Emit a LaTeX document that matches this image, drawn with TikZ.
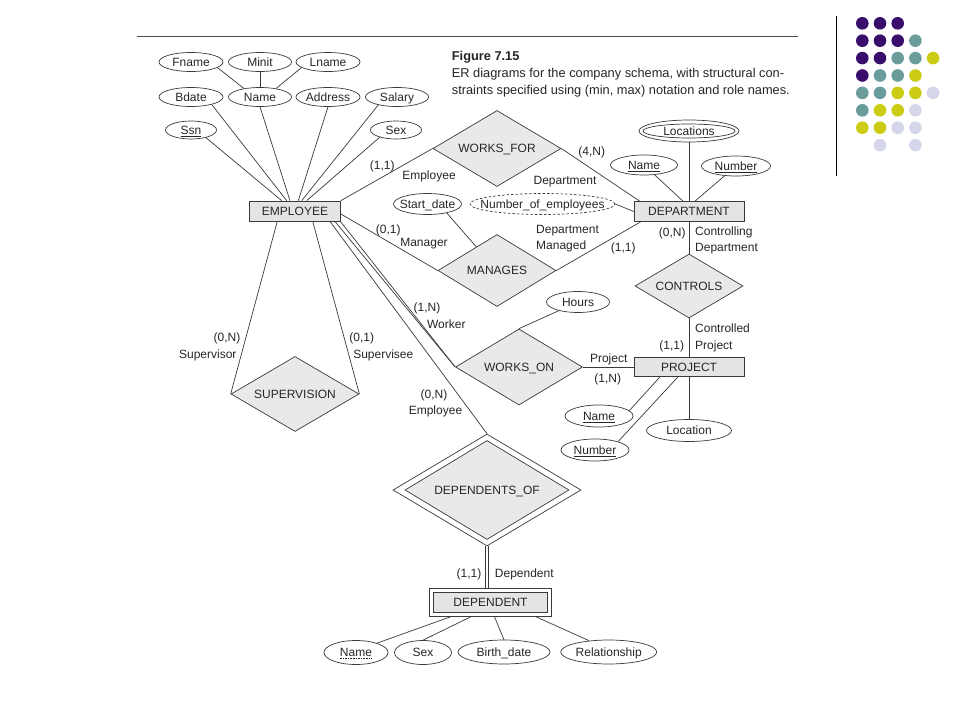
\documentclass[tikz,border=0pt]{standalone}
\usepackage{fontspec}
\setmainfont{Liberation Sans}
\usetikzlibrary{shapes.geometric,calc}
\pgfdeclarelayer{bg}
\pgfsetlayers{bg,main}
\definecolor{linec}{HTML}{3A3A3A}
\definecolor{entfill}{HTML}{E4E4E4}
\definecolor{relfill}{HTML}{E9E9E9}
\definecolor{dotP}{HTML}{380D6B}
\definecolor{dotT}{HTML}{6A9C9C}
\definecolor{dotY}{HTML}{CCCC14}
\definecolor{dotL}{HTML}{D6D6EA}
\newcommand\zb[1]{\makebox[0pt]{#1}}
\begin{document}
\begin{tikzpicture}[x=1bp,y=-1bp,
  every node/.style={font=\fontsize{12bp}{14bp}\selectfont, text=black!85, inner sep=0pt, text height=8.6bp, text depth=0pt},
  ent/.style={rectangle, draw=linec, line width=0.7bp, fill=entfill, minimum height=20bp},
  relship/.style={diamond, draw=linec, line width=0.7bp, fill=relfill, aspect=1.7},
  attr/.style={ellipse, draw=linec, line width=0.7bp, fill=white},
  conn/.style={draw=linec, line width=0.7bp},
  capfont/.style={font=\fontsize{12.8bp}{15bp}\selectfont, anchor=west}
]
\useasboundingbox (0,0) rectangle (960,720);
\begin{pgfonlayer}{bg}
\fill[white] (0,0) rectangle (960,720);
\end{pgfonlayer}

% decorative rules and dots
\coordinate (ruleL) at (137.3,36.7);
\coordinate (ruleR) at (798.3,36.7);
\draw[line width=1.3bp, black!70] (ruleL) -- (ruleR);
\coordinate (vtop) at (836.7,16);
\coordinate (vbot) at (836.7,176);
\draw[line width=1.3bp, black] (vtop) -- (vbot);
\foreach \c/\r/\k in {1/1/P,2/1/P,3/1/P, 1/2/P,2/2/P,3/2/P,4/2/T, 1/3/P,2/3/P,3/3/T,4/3/T,5/3/Y, 1/4/P,2/4/T,3/4/T,4/4/Y, 1/5/T,2/5/T,3/5/Y,4/5/Y,5/5/L, 1/6/T,2/6/Y,3/6/Y,4/6/L, 1/7/Y,2/7/Y,3/7/L,4/7/L, 2/8/L,4/8/L}
  \fill[dot\k] ({862.3+17.7*(\c-1)},{23.3+17.4*(\r-1)}) circle (6.3bp);

% caption
\node[capfont, font=\fontsize{12.8bp}{15bp}\selectfont\bfseries] (fig) at (451.7,56.7) {Figure 7.15};
\node[capfont] (cap1) at (451.7,73.3) {ER diagrams for the company schema, with structural con-};
\node[capfont] (cap2) at (451.7,90) {straints specified using (min, max) notation and role names.};

% EMPLOYEE and attributes
\node[attr, minimum width=64bp, minimum height=19bp] (fname) at (191,62) {\zb{Fname}};
\node[attr, minimum width=63bp, minimum height=19bp] (minit) at (260,62) {\zb{Minit}};
\node[attr, minimum width=64bp, minimum height=19bp] (lname) at (328,62) {\zb{Lname}};
\node[attr, minimum width=64bp, minimum height=19bp] (bdate) at (191,97) {\zb{Bdate}};
\node[attr, minimum width=63bp, minimum height=19bp] (ename) at (260,97) {\zb{Name}};
\node[attr, minimum width=64bp, minimum height=19bp] (addr) at (328,97) {\zb{Address}};
\node[attr, minimum width=63bp, minimum height=19bp] (salary) at (397,97) {\zb{Salary}};
\node[attr, minimum width=51bp, minimum height=18bp] (ssn) at (191,130) {\zb{\underline{Ssn}}};
\node[attr, minimum width=51bp, minimum height=18bp] (esex) at (396,130) {\zb{Sex}};
\node[ent, minimum width=91bp] (emp) at (295,211) {EMPLOYEE};

% DEPARTMENT side
\node[relship, minimum width=128bp, minimum height=76bp] (wf) at (497,148.5) {\zb{WORKS\_FOR}};
\node[attr, minimum width=100bp, minimum height=22bp] (locs) at (689,131) {};
\node[attr, minimum width=92bp, minimum height=14bp] (locsin) at (689,131) {\zb{Locations}};
\node[attr, minimum width=67bp, minimum height=20bp] (dname) at (644,165) {\zb{\underline{Name}}};
\node[attr, minimum width=69bp, minimum height=20bp] (dnum) at (736,166) {\zb{\underline{Number}}};
\node[attr, dash pattern=on 2.5bp off 2bp, minimum width=145bp, minimum height=21bp] (noe) at (542.5,204) {\zb{Number\_of\_employees}};
\node[attr, minimum width=68bp, minimum height=21bp] (sdate) at (427.5,204) {\zb{Start\_date}};
\node[ent, minimum width=110bp] (dept) at (689,211.5) {DEPARTMENT};
\node[relship, minimum width=118bp, minimum height=72bp] (mg) at (497,270.5) {\zb{MANAGES}};
\node[relship, minimum width=108bp, minimum height=64bp] (ctrl) at (689,286) {\zb{CONTROLS}};

% PROJECT side
\node[attr, minimum width=63bp, minimum height=21bp] (hours) at (578,302) {\zb{Hours}};
\node[relship, minimum width=127bp, minimum height=76bp] (wo) at (519,367) {\zb{WORKS\_ON}};
\node[ent, minimum width=110bp, minimum height=19bp] (proj) at (689,367) {PROJECT};
\node[attr, minimum width=68bp, minimum height=22bp] (pname) at (599,416) {\zb{\underline{Name}}};
\node[attr, minimum width=85bp, minimum height=22bp] (ploc) at (689,430.5) {\zb{Location}};
\node[attr, minimum width=68bp, minimum height=22bp] (pnum) at (595,450) {\zb{\underline{Number}}};

% SUPERVISION, DEPENDENTS
\node[relship, minimum width=128bp, minimum height=75bp] (sup) at (295,394) {\zb{SUPERVISION}};
\node[relship, fill=white, minimum width=188bp, minimum height=112bp] (dof) at (487,490) {};
\node[relship, minimum width=164bp, minimum height=99bp] (dofin) at (487,490) {\zb{DEPENDENTS\_OF}};
\node[ent, fill=white, minimum width=122bp, minimum height=28bp] (dep) at (490.5,602) {};
\node[ent, minimum width=114bp, minimum height=20bp] (depin) at (490.5,602) {DEPENDENT};
\node[attr, minimum width=64bp, minimum height=24bp] (dpname) at (356,652.5) {\zb{Name}};
\node[attr, minimum width=57bp, minimum height=24bp] (dpsex) at (423,652.5) {\zb{Sex}};
\node[attr, minimum width=92bp, minimum height=24bp] (dpbirth) at (504,652) {\zb{Birth\_date}};
\node[attr, minimum width=96bp, minimum height=24bp] (dprel) at (608.7,652) {\zb{Relationship}};
\draw[line width=0.6bp, dash pattern=on 1.6bp off 1bp, black!85] ([xshift=-16bp,yshift=-5.8bp]dpname.center) -- ([xshift=16bp,yshift=-5.8bp]dpname.center);

% role labels
\node (l1) at (382.3,165) {(1,1)};
\node (l2) at (429,175) {Employee};
\node (l3) at (591.7,151) {(4,N)};
\node (l4) at (565,180.7) {Department};
\node (l5) at (388.3,229.3) {(0,1)};
\node (l6) at (424,241.7) {Manager};
\node[anchor=west] (l7) at (536,229.3) {Department};
\node[anchor=west] (l8) at (536,245) {Managed};
\node (l9) at (623.3,247.3) {(1,1)};
\node (l10) at (672.3,231.7) {(0,N)};
\node[anchor=west] (l11) at (695,230.7) {Controlling};
\node[anchor=west] (l12) at (695,246.7) {Department};
\node[anchor=west] (l13) at (695,328.3) {Controlled};
\node[anchor=west] (l14) at (695,345) {Project};
\node (l15) at (671.7,345) {(1,1)};
\node (l16) at (608.7,358.3) {Project};
\node (l17) at (607.7,377.7) {(1,N)};
\node (l18) at (427,306.7) {(1,N)};
\node (l19) at (446.3,324) {Worker};
\node (l20) at (434,394) {(0,N)};
\node (l21) at (435.5,410) {Employee};
\node (l22) at (227,337.3) {(0,N)};
\node (l23) at (207.8,354) {Supervisor};
\node (l24) at (361.7,337.3) {(0,1)};
\node (l25) at (383.3,354) {Supervisee};
\node (l26) at (469,573.3) {(1,1)};
\node (l27) at (524.3,573.3) {Dependent};

% connectors
\begin{pgfonlayer}{bg}
\path[conn] (fname.-12) -- (ename.152);
\path[conn] (minit) -- (ename);
\path[conn] (lname.192) -- (ename.28);
\path[conn] (ssn.-27) -- ([xshift=-13.3bp]emp.north);
\path[conn] (bdate.-20) -- ([xshift=-8.3bp]emp.north);
\path[conn] (ename.south) -- ([xshift=-5bp]emp.north);
\path[conn] (addr.south) -- ([xshift=3.3bp]emp.north);
\path[conn] (salary.203) -- ([xshift=6.7bp]emp.north);
\path[conn] (esex.204) -- ([xshift=11.7bp]emp.north);
\path[conn] (emp.north east) -- (wf.west);
\path[conn] (wf.east) -- ([xshift=6bp]dept.north west);
\path[conn] (noe.east) -- (dept.west);
\path[conn] (locs) -- (dept);
\path[conn] (dname) -- ([xshift=-6bp]dept.north);
\path[conn] (dnum) -- ([xshift=6bp]dept.north);
\path[conn] (sdate.-25) -- (mg);
\path[conn] ([yshift=-3bp]emp.east) -- (mg.west);
\path[conn] (mg.east) -- ([xshift=7bp]dept.south west);
\path[conn] (dept) -- (ctrl);
\path[conn] (ctrl) -- (proj);
\path[conn] (hours) -- (wo.north);
\path[conn] ([xshift=-6bp]emp.south east) -- (wo.west);
\path[conn] ([xshift=-0.5bp]emp.south east) -- (wo.west);
\path[conn] ([xshift=-11bp]emp.south east) -- (dof.north);
\path[conn] ([xshift=-17.7bp]emp.south) -- (sup.west);
\path[conn] ([xshift=17.7bp]emp.south) -- (sup.east);
\path[conn] (wo.east) -- (proj.west);
\path[conn] (pname.10) -- ([xshift=-29bp]proj.south);
\path[conn] (pnum.20) -- ([xshift=-11bp]proj.south);
\path[conn] (proj) -- (ploc);
\path[conn] ([xshift=-1.8bp]dof.south) -- ([xshift=-1.8bp]dof.south |- dep.north);
\path[conn] ([xshift=1.8bp]dof.south) -- ([xshift=1.8bp]dof.south |- dep.north);
\path[conn] (dpname.24) -- ([xshift=-38.8bp]dep.south);
\path[conn] (dpsex.north) -- ([xshift=-18.8bp]dep.south);
\path[conn] (dpbirth.north) -- ([xshift=3.8bp]dep.south);
\path[conn] (dprel.150) -- ([xshift=44.5bp]dep.south);
\end{pgfonlayer}
\end{tikzpicture}
\end{document}
